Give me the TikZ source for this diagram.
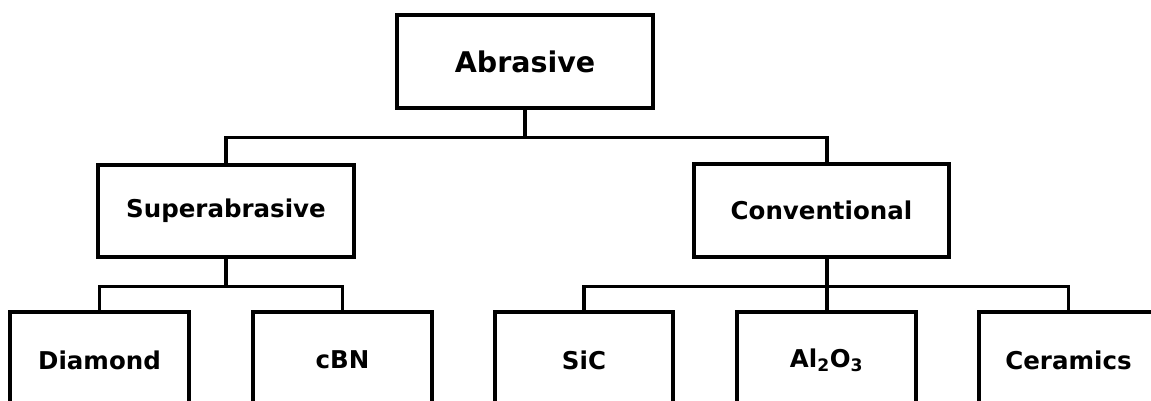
\documentclass[tikz,border=0pt]{standalone}
\usepackage{fontspec}
\setmainfont{DejaVu Sans}
\usetikzlibrary{calc}
\begin{document}
\begin{tikzpicture}[x=1pt,y=-1pt,
  box/.style={draw=black,line width=3.3pt,fill=white,inner sep=0pt,font=\bfseries\fontsize{24.5}{29}\selectfont},
  wire/.style={draw=black,line width=3.6pt}]
\useasboundingbox (0,0) rectangle (1151,401);
\clip (0,0) rectangle (1151,401);
\node[box,minimum width=256pt,minimum height=93pt,font=\bfseries\fontsize{28.5}{33}\selectfont] (abr) at (525,61.5) {Abrasive};
\node[box,minimum width=256pt,minimum height=92pt] (sup) at (226,211) {Superabrasive};
\node[box,minimum width=255pt,minimum height=93pt] (con) at (821.5,210.5) {Conventional};
\node[box,minimum width=179pt,minimum height=96pt] (dia) at (99.5,360) {Diamond};
\node[box,minimum width=179pt,minimum height=96pt] (cbn) at (342.5,360) {cBN};
\node[box,minimum width=178pt,minimum height=96pt] (sic) at (584,360) {SiC};
\node[box,minimum width=179pt,minimum height=96pt] (alo) at (826.5,360) {Al\textsubscript{2}O\textsubscript{3}};
\node[box,minimum width=179pt,minimum height=96pt] (cer) at (1068.5,360) {Ceramics};
\coordinate (conc) at ($(con.south)+(5.5,0)$);
\coordinate (cont) at ($(con.north)+(5.5,0)$);
% level 1
\draw[wire] (abr.south) -- ++(0,28) coordinate (j1);
\draw[wire] (sup.north) |- (j1) -| (cont);
% level 2 left
\draw[wire] (sup.south) -- ++(0,28) coordinate (j2);
\draw[wire] (dia.north) |- (j2) -| (cbn.north);
% level 2 right
\draw[wire] (conc) -- (conc |- alo.north);
\draw[wire] (sic.north) |- ($(conc)+(0,28)$) -| (cer.north);
\end{tikzpicture}
\end{document}
